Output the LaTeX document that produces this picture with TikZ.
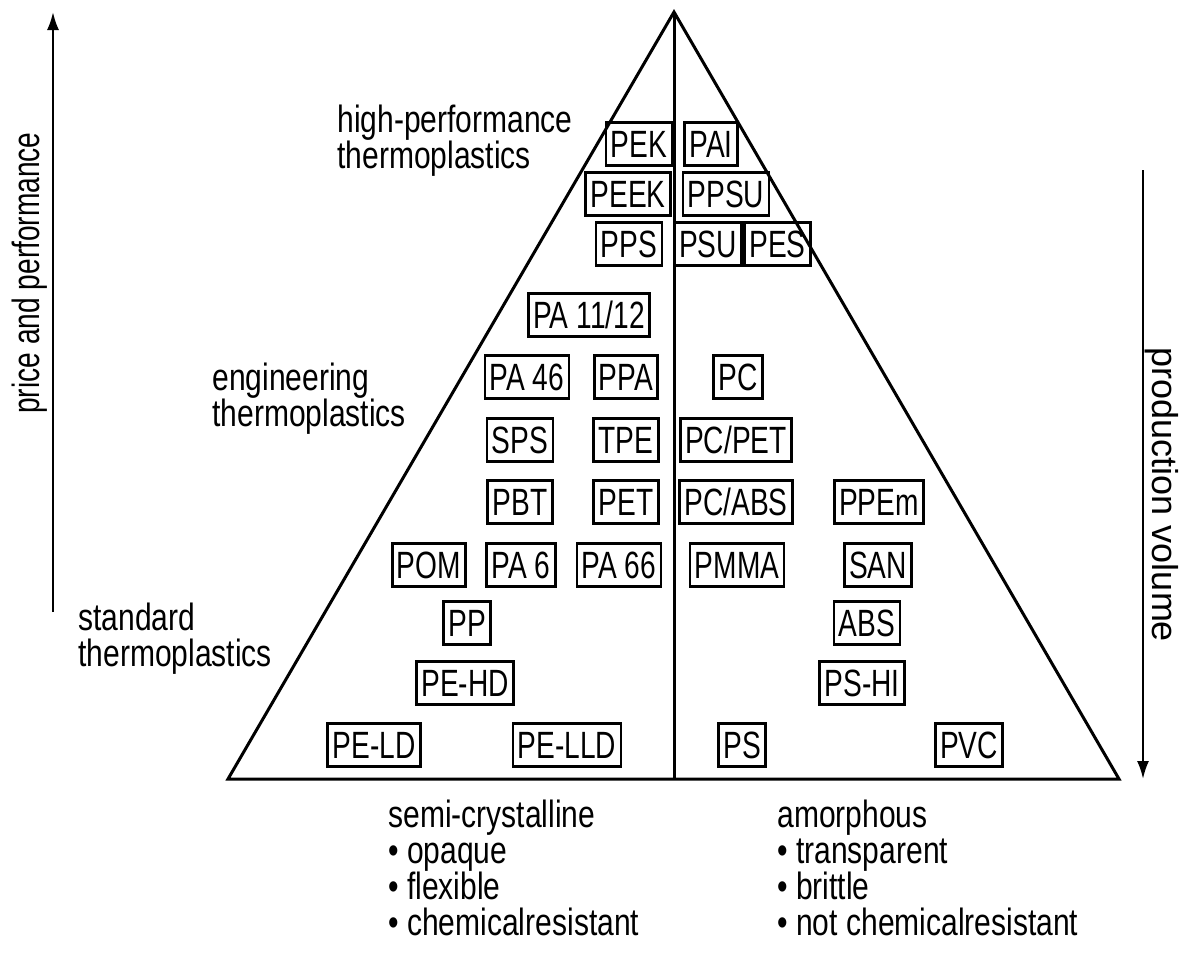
\documentclass[tikz,border=0pt]{standalone}
\usepackage{fontspec}
\setmainfont{Liberation Sans}[FakeStretch=0.79]
\newfontfamily\narrowfont{Liberation Sans}[FakeStretch=0.74]
\newfontfamily\widefont{Liberation Sans}
\usetikzlibrary{arrows.meta}

\begin{document}
\begin{tikzpicture}[x=0.5pt, y=-0.5pt,
  polybox/.style={draw, line width=1.4pt, inner xsep=2.4pt, inner ysep=4pt,
    text height=13.6pt, text depth=0pt, font=\narrowfont\fontsize{19pt}{18pt}\selectfont},
  grouplbl/.style={anchor=north west, inner sep=0pt, align=left,
    font=\fontsize{19pt}{18pt}\selectfont},
  axisarrow/.style={line width=1.1pt, -{Latex[length=9pt,width=6pt]}}]
  \useasboundingbox (0,0) rectangle (1190,955);
  \coordinate (apex) at (674,12);
  \coordinate (baseL) at (228,779);
  \coordinate (baseR) at (1119,779);
  \coordinate (baseM) at (674,779);
  \draw[line width=1.5pt, line join=miter] (baseL) -- (apex) -- (baseR) -- cycle;
  \draw[line width=1.5pt] (apex) -- (baseM);

  \coordinate (priceS) at (53,612);
  \coordinate (priceE) at (53,12);
  \draw[axisarrow] (priceS) -- (priceE);
  \node[inner sep=0pt, rotate=90, font=\narrowfont\fontsize{19pt}{18pt}\selectfont]
    (price) at (30,273) {price and performance};
  \coordinate (volS) at (1143,170);
  \coordinate (volE) at (1143,779);
  \draw[axisarrow] (volS) -- (volE);
  \node[inner sep=0pt, rotate=-90, font=\widefont\fontsize{18pt}{18pt}\selectfont]
    (vol) at (1162,495) {production volume};

  \node[grouplbl] (hp) at (337,105) {high-performance\\thermoplastics};
  \node[grouplbl] (eng) at (212,363) {engineering\\thermoplastics};
  \node[grouplbl] (std) at (78,603) {standard\\thermoplastics};
  \node[grouplbl] (semi) at (388,800) {semi-crystalline\\• opaque\\• flexible\\• chemicalresistant};
  \node[grouplbl] (amor) at (777,800) {amorphous\\• transparent\\• brittle\\• not chemicalresistant};

  \node[polybox] (pek) at (639,144) {PEK};
  \node[polybox] (pai) at (711,144) {PAI};
  \node[polybox] (peek) at (628,194) {PEEK};
  \node[polybox] (ppsu) at (726,194) {PPSU};
  \node[polybox] (pps) at (629,244) {PPS};
  \node[polybox] (psu) at (708,244) {PSU};
  \node[polybox, anchor=west] (pes) at (psu.east) {PES};
  \node[polybox] (pa1112) at (589,315) {PA 11/12};
  \node[polybox] (pa46) at (527,377) {PA 46};
  \node[polybox] (ppa) at (626,377) {PPA};
  \node[polybox] (pc) at (738,377) {PC};
  \node[polybox] (sps) at (520,440) {SPS};
  \node[polybox] (tpe) at (626,440) {TPE};
  \node[polybox] (pcpet) at (736,440) {PC/PET};
  \node[polybox] (pbt) at (520,502) {PBT};
  \node[polybox] (pet) at (626,502) {PET};
  \node[polybox] (pcabs) at (736,502) {PC/ABS};
  \node[polybox] (ppem) at (879,502) {PPEm};
  \node[polybox] (pom) at (429,565) {POM};
  \node[polybox] (pa6) at (521,565) {PA 6};
  \node[polybox] (pa66) at (619,565) {PA 66};
  \node[polybox] (pmma) at (737,565) {PMMA};
  \node[polybox] (san) at (878,565) {SAN};
  \node[polybox] (pp) at (467,623) {PP};
  \node[polybox] (abs) at (867,623) {ABS};
  \node[polybox] (pehd) at (465,683) {PE-HD};
  \node[polybox] (pshi) at (862,683) {PS-HI};
  \node[polybox] (peld) at (374,745) {PE-LD};
  \node[polybox] (pelld) at (567,745) {PE-LLD};
  \node[polybox] (ps) at (742,745) {PS};
  \node[polybox] (pvc) at (969,745) {PVC};
\end{tikzpicture}
\end{document}
